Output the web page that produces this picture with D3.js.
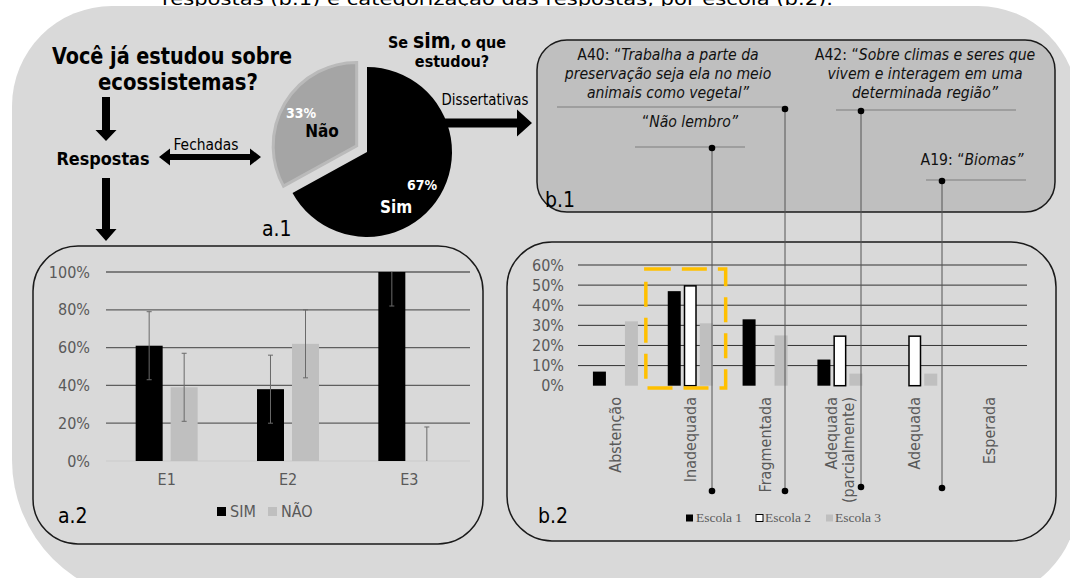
<!DOCTYPE html>
<html><head><meta charset="utf-8">
<script src="https://cdn.jsdelivr.net/npm/d3@7"></script>
<style>
body{margin:0;background:#fff;}
svg{display:block;}
text{font-family:"DejaVu Sans Condensed","DejaVu Sans",Verdana,sans-serif;}
</style>
</head><body>
<svg id="c" width="1070" height="578"></svg>
<script>
// ---------------- DATA ----------------
const pieLabels = ["Sim", "Não"];
const pieValues = [67, 33];

const schoolsA = ["E1", "E2", "E3"];
const seriesA = ["SIM", "NÃO"];
const simValues = [61, 38, 100];
const naoValues = [39, 62, 0];
const simErr = [18, 18, 18];
const naoErr = [18, 18, 18];
const yTicksA = [0, 20, 40, 60, 80, 100];

const categoriesB = ["Abstenção", "Inadequada", "Fragmentada", "Adequada (parcialmente)", "Adequada", "Esperada"];
const seriesB = ["Escola 1", "Escola 2", "Escola 3"];
const escola1 = [7, 47, 33, 13, 0, 0];
const escola2 = [0, 50, 0, 25, 25, 0];
const escola3 = [32, 31, 25, 6, 6, 0];
const yTicksB = [0, 10, 20, 30, 40, 50, 60];

// ---------------- SETUP ----------------
const svg = d3.select("#c");
const BOLD = "bold";
const GRAYTXT = "#595959";

function roundedPath(x0, y0, x1, y1, rtl, rtr, rbr, rbl) {
  const p = d3.path();
  p.moveTo(x0 + rtl, y0);
  p.lineTo(x1 - rtr, y0);
  p.arcTo(x1, y0, x1, y0 + rtr, rtr);
  p.lineTo(x1, y1 - rbr);
  p.arcTo(x1, y1, x1 - rbr, y1, rbr);
  p.lineTo(x0 + rbl, y1);
  p.arcTo(x0, y1, x0, y1 - rbl, rbl);
  p.lineTo(x0, y0 + rtl);
  p.arcTo(x0, y0, x0 + rtl, y0, rtl);
  p.closePath();
  return p.toString();
}
function txt(g, x, y, s, o = {}) {
  const t = g.append("text").attr("x", x).attr("y", y).text(s)
    .attr("font-size", o.size || 15)
    .attr("fill", o.fill || "#000")
    .attr("text-anchor", o.anchor || "start");
  if (o.weight) t.attr("font-weight", o.weight);
  if (o.style) t.attr("font-style", o.style);
  if (o.family) t.style("font-family", o.family);
  if (o.len) t.attr("textLength", o.len).attr("lengthAdjust", "spacingAndGlyphs");
  return t;
}
// arrow polygon helper: from (x0,y0) to tip (x1,y1)
function arrow(g, x0, y0, x1, y1, shaft, headW, headL, both) {
  const dx = x1 - x0, dy = y1 - y0, L = Math.hypot(dx, dy);
  const ux = dx / L, uy = dy / L, nx = -uy, ny = ux;
  const P = (a, b) => [x0 + ux * a + nx * b, y0 + uy * a + ny * b];
  let pts;
  if (both) {
    pts = [P(0, 0), P(headL, headW / 2), P(headL, shaft / 2), P(L - headL, shaft / 2), P(L - headL, headW / 2), P(L, 0),
           P(L - headL, -headW / 2), P(L - headL, -shaft / 2), P(headL, -shaft / 2), P(headL, -headW / 2)];
  } else {
    pts = [P(0, shaft / 2), P(L - headL, shaft / 2), P(L - headL, headW / 2), P(L, 0),
           P(L - headL, -headW / 2), P(L - headL, -shaft / 2), P(0, -shaft / 2)];
  }
  g.append("path").attr("d", d3.line()(pts) + "Z").attr("fill", "#000");
}

// caption (cut off at top, partly hidden under background)
txt(svg, 162, 5, "respostas (b.1) e categorização das respostas, por escola (b.2).", { size: 18, len: 671 });

// background
svg.append("path").attr("d", roundedPath(12, 6, 1078, 600, 100, 100, 100, 140)).attr("fill", "#d9d9d9");

// ---------------- LEFT FLOW ----------------
const gL = svg.append("g");
txt(gL, 172, 64, "Você já estudou sobre", { size: 23, weight: BOLD, anchor: "middle", len: 240 });
txt(gL, 178, 90, "ecossistemas?", { size: 23, weight: BOLD, anchor: "middle", len: 160 });
arrow(gL, 106, 97, 106, 141, 8, 21, 11);
txt(gL, 103, 165, "Respostas", { size: 18, weight: BOLD, anchor: "middle", len: 93 });
arrow(gL, 106, 178, 106, 241, 8, 21, 12);
arrow(gL, 159, 157, 261, 157, 6, 17, 11, true);
txt(gL, 206, 150, "Fechadas", { size: 15, anchor: "middle", len: 65 });

// ---------------- a.1 PIE ----------------
const pieCx = 367, pieCy = 152, pieR = 85;
const pieGen = d3.pie().sort(null).value(d => d.v).startAngle(0).endAngle(2 * Math.PI);
const arcs = pieGen(pieLabels.map((l, i) => ({ l, v: pieValues[i] })));
const arcGen = d3.arc().innerRadius(0).outerRadius(pieR);
const gPie = svg.append("g").attr("transform", `translate(${pieCx},${pieCy})`);
arcs.forEach((a, i) => {
  const mid = (a.startAngle + a.endAngle) / 2;
  const off = i === 1 ? 12 : 0;
  const dx = Math.sin(mid) * off, dy = -Math.cos(mid) * off;
  gPie.append("path").attr("d", i === 1 ? d3.arc().innerRadius(0).outerRadius(pieR - 1.5)(a) : arcGen(a))
    .attr("transform", `translate(${dx},${dy})`)
    .attr("fill", i === 0 ? "#000" : "#a5a5a5")
    .attr("stroke", i === 0 ? "none" : "#bababa").attr("stroke-width", 3).attr("stroke-linejoin", "miter");
});
txt(svg, 301, 118, pieValues[1] + "%", { size: 14, weight: BOLD, fill: "#fff", anchor: "middle" });
txt(svg, 322, 137, pieLabels[1], { size: 17, weight: BOLD, anchor: "middle" });
txt(svg, 422, 190, pieValues[0] + "%", { size: 14, weight: BOLD, fill: "#fff", anchor: "middle" });
txt(svg, 396, 213, pieLabels[0], { size: 17, weight: BOLD, fill: "#fff", anchor: "middle" });
txt(svg, 262, 236, "a.1", { size: 21 });

// Se sim
const tSe = svg.append("text").attr("x", 447).attr("y", 48).attr("text-anchor", "middle").attr("font-weight", "bold").attr("font-size", 16);
tSe.append("tspan").text("Se ");
tSe.append("tspan").attr("font-size", 21).text("sim");
tSe.append("tspan").text(", o que");
txt(svg, 452, 67, "estudou?", { size: 16, weight: BOLD, anchor: "middle" });
txt(svg, 485, 105, "Dissertativas", { size: 15, anchor: "middle", len: 87 });
arrow(svg, 442, 123, 532, 123, 9, 27, 15);

// ---------------- b.1 BOX ----------------
svg.append("rect").attr("x", 537).attr("y", 40).attr("width", 518).attr("height", 172).attr("rx", 30)
  .attr("fill", "#bfbfbf").attr("stroke", "#1a1a1a").attr("stroke-width", 1.5);
txt(svg, 545, 207, "b.1", { size: 21 });

function quote(cx, y0, lines, prefix) {
  lines.forEach((ln, i) => {
    const t = svg.append("text").attr("x", cx).attr("y", y0 + i * 19).attr("text-anchor", "middle").attr("font-size", 15.6).attr("fill", "#111");
    if (i === 0 && prefix) t.append("tspan").text(prefix);
    t.append("tspan").attr("font-style", "italic").text(ln);
  });
}
quote(668, 60, ["Trabalha a parte da", "preservação seja ela no meio", "animais como vegetal”"], "A40: “");
quote(925, 60, ["Sobre climas e seres que", "vivem e interagem em uma", "determinada região”"], "A42: “");
quote(690, 127, ["Não lembro”"], "“");
quote(972, 165, ["Biomas”"], "A19: “");

// underlines
const ul = [[557, 785, 107], [836, 1016, 110], [635, 745, 147], [926, 1026, 180]];
ul.forEach(u => svg.append("line").attr("x1", u[0]).attr("x2", u[1]).attr("y1", u[2]).attr("y2", u[2]).attr("stroke", "#7f7f7f").attr("stroke-width", 1.2));

// ---------------- a.2 BAR CHART ----------------
svg.append("rect").attr("x", 33).attr("y", 246).attr("width", 450).attr("height", 298).attr("rx", 45)
  .attr("fill", "none").attr("stroke", "#1a1a1a").attr("stroke-width", 1.5);
const ax = d3.scaleBand().domain(schoolsA).range([106, 470]);
const ax1 = d3.scaleBand().domain(seriesA).range([-31, 31]).paddingInner(0.229);
const ay = d3.scaleLinear().domain([0, 100]).range([461, 272]);
const gA = svg.append("g");
yTicksA.forEach(t => gA.append("line").attr("x1", 106).attr("x2", 470).attr("y1", ay(t)).attr("y2", ay(t))
  .attr("stroke", t === 0 ? "#cfcfcf" : "#5f5f5f").attr("stroke-width", 1.3));
const axA = gA.append("g").attr("transform", "translate(106,0)")
  .call(d3.axisLeft(ay).tickValues(yTicksA).tickFormat(d => d + "%").tickSize(0).tickPadding(16));
axA.select(".domain").remove();
axA.selectAll("text").attr("font-size", 16).attr("fill", GRAYTXT).style("font-family", null);
const axB = gA.append("g").attr("transform", "translate(0,470)")
  .call(d3.axisBottom(ax).tickSize(0).tickPadding(4));
axB.select(".domain").remove();
axB.selectAll("text").attr("font-size", 16).attr("fill", GRAYTXT).style("font-family", null);

const dataA = [];
schoolsA.forEach((s, i) => {
  dataA.push({ s, k: "SIM", v: simValues[i], e: simErr[i], c: "#000" });
  dataA.push({ s, k: "NÃO", v: naoValues[i], e: naoErr[i], c: "#bfbfbf" });
});
const cx = d => ax(d.s) + ax.bandwidth() / 2;
gA.selectAll("rect.bar").data(dataA.filter(d => d.v > 0)).join("rect")
  .attr("x", d => cx(d) + ax1(d.k)).attr("width", ax1.bandwidth())
  .attr("y", d => ay(d.v)).attr("height", d => ay(0) - ay(d.v)).attr("fill", d => d.c);
dataA.forEach(d => {
  const xm = cx(d) + ax1(d.k) + ax1.bandwidth() / 2;
  const lo = Math.max(0, d.v - d.e), hi = Math.min(100, d.v + d.e);
  gA.append("line").attr("x1", xm).attr("x2", xm).attr("y1", ay(lo)).attr("y2", ay(hi)).attr("stroke", "#6a6a6a").attr("stroke-width", 1);
  if (d.v - d.e >= 0) gA.append("line").attr("x1", xm - 2.5).attr("x2", xm + 2.5).attr("y1", ay(lo)).attr("y2", ay(lo)).attr("stroke", "#6a6a6a");
  if (d.v + d.e <= 100) gA.append("line").attr("x1", xm - 2.5).attr("x2", xm + 2.5).attr("y1", ay(hi)).attr("y2", ay(hi)).attr("stroke", "#6a6a6a");
});
// legend
const legA = [["SIM", "#000", 217, 230], ["NÃO", "#bfbfbf", 268, 281]];
legA.forEach(l => {
  gA.append("rect").attr("x", l[2]).attr("y", 507).attr("width", 9).attr("height", 9).attr("fill", l[1]);
  txt(gA, l[3], 517, l[0], { size: 16, fill: GRAYTXT });
});
txt(svg, 58, 523, "a.2", { size: 21 });

// ---------------- b.2 BAR CHART ----------------
svg.append("rect").attr("x", 507).attr("y", 242).attr("width", 549).attr("height", 299).attr("rx", 45)
  .attr("fill", "none").attr("stroke", "#1a1a1a").attr("stroke-width", 1.5);
const bx = d3.scaleBand().domain(categoriesB).range([578, 1027]);
const bx1 = d3.scaleBand().domain(seriesB).range([-22.5, 22.5]).paddingInner(0.1875);
const by = d3.scaleLinear().domain([0, 60]).range([385.7, 265]);
const gB = svg.append("g");
yTicksB.filter(t => t > 0).forEach(t => gB.append("line").attr("x1", 578).attr("x2", 1027).attr("y1", by(t)).attr("y2", by(t))
  .attr("stroke", "#333").attr("stroke-width", 1));
const ayB = gB.append("g").attr("transform", "translate(578,0)")
  .call(d3.axisLeft(by).tickValues(yTicksB).tickFormat(d => d + "%").tickSize(0).tickPadding(14));
ayB.select(".domain").remove();
ayB.selectAll("text").attr("font-size", 16).attr("fill", GRAYTXT).style("font-family", null);

const dataB = [];
categoriesB.forEach((c, i) => {
  dataB.push({ c, k: "Escola 1", v: escola1[i], fill: "#000", stroke: "none" });
  dataB.push({ c, k: "Escola 2", v: escola2[i], fill: "#fff", stroke: "#000" });
  dataB.push({ c, k: "Escola 3", v: escola3[i], fill: "#bfbfbf", stroke: "none" });
});
const bcx = d => bx(d.c) + bx.bandwidth() / 2;
gB.selectAll("rect.bar").data(dataB.filter(d => d.v > 0)).join("rect")
  .attr("x", d => bcx(d) + bx1(d.k) + (d.stroke === "none" ? 0 : 0.75)).attr("width", d => bx1.bandwidth() - (d.stroke === "none" ? 0 : 1.5))
  .attr("y", d => by(d.v) + (d.stroke === "none" ? 0 : 0.75)).attr("height", d => by(0) - by(d.v) - (d.stroke === "none" ? 0 : 0.75))
  .attr("fill", d => d.fill).attr("stroke", d => d.stroke).attr("stroke-width", 1.5);

// rotated category labels
categoriesB.forEach(c => {
  const xc = bx(c) + bx.bandwidth() / 2;
  const parts = c === "Adequada (parcialmente)" ? ["Adequada", "(parcialmente)"] : [c];
  parts.forEach((p, j) => {
    const xx = xc + (parts.length === 1 ? 0 : (j === 0 ? -8.5 : 8.5)) + 5.5;
    gB.append("text").attr("transform", `translate(${xx},397) rotate(-90)`).attr("text-anchor", "end")
      .attr("font-size", 16).attr("fill", GRAYTXT).text(p);
  });
});
// yellow highlight
const hiCat = "Inadequada";
gB.append("rect").attr("x", bx(hiCat) - 7).attr("y", 269).attr("width", bx.bandwidth() + 5).attr("height", 119)
  .attr("fill", "none").attr("stroke", "#ffc000").attr("stroke-width", 3.5).attr("stroke-dasharray", "25 11");
// legend
const legB = [["Escola 1", "#000", "none", 686, 696], ["Escola 2", "#fff", "#000", 756, 765], ["Escola 3", "#bfbfbf", "none", 826, 835]];
legB.forEach(l => {
  gB.append("rect").attr("x", l[3]).attr("y", 514.5).attr("width", 7).attr("height", 7).attr("fill", l[1]).attr("stroke", l[2]).attr("stroke-width", 1);
  txt(gB, l[4], 522, l[0], { size: 13.5, fill: GRAYTXT, family: '"Liberation Serif","Times New Roman",serif' });
});
txt(svg, 538, 523, "b.2", { size: 21 });

// ---------------- leader lines ----------------
const leaders = [[712, 148, 491], [785, 109, 491], [861, 111, 487], [942, 181, 488]];
leaders.forEach(l => {
  svg.append("line").attr("x1", l[0]).attr("x2", l[0]).attr("y1", l[1]).attr("y2", l[2]).attr("stroke", "#555").attr("stroke-width", 1);
  svg.append("circle").attr("cx", l[0]).attr("cy", l[1]).attr("r", 3.3).attr("fill", "#000");
  svg.append("circle").attr("cx", l[0]).attr("cy", l[2]).attr("r", 3.3).attr("fill", "#000");
});
</script>
</body></html>
